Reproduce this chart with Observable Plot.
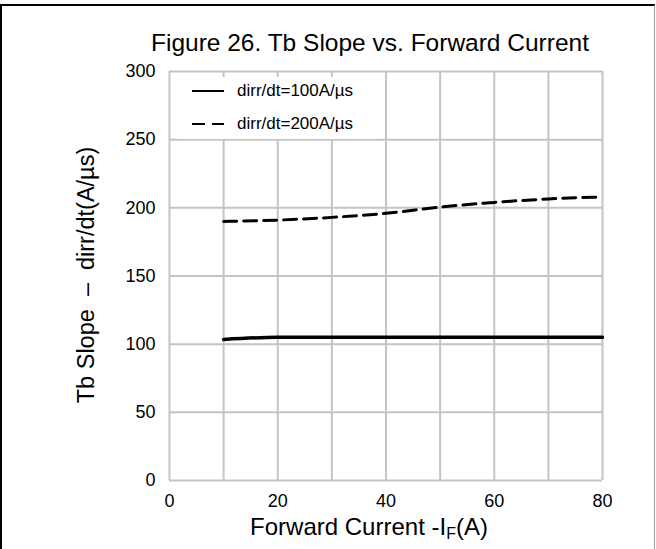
<!DOCTYPE html>
<html>
<head>
<meta charset="utf-8">
<script src="https://cdn.jsdelivr.net/npm/d3@7"></script>
<script src="https://cdn.jsdelivr.net/npm/@observablehq/plot@0.6"></script>
<style>
  html, body { margin: 0; padding: 0; background: #fff; }
  #wrap { position: relative; width: 656px; height: 549px; overflow: hidden; font-family: "Liberation Sans", Arial, sans-serif; color: #000; }
  #frame { position: absolute; left: 0; top: 4px; width: 655px; height: 560px; border-top: 2px solid #000; border-left: 2px solid #000; border-right: 1px solid #a0a0a0; box-sizing: border-box; pointer-events: none; }
  .title { position: absolute; left: 0; width: 740px; top: 28px; text-align: center; font-size: 24.5px; white-space: nowrap; line-height: 30px; }
  .xlabel { position: absolute; left: 0; width: 738px; top: 512px; text-align: center; font-size: 24px; white-space: nowrap; line-height: 30px; }
  .xlabel sub { font-size: 16px; vertical-align: -4px; line-height: 0; }
  .ylabel { position: absolute; left: 86px; top: 275px; transform: translate(-50%, -50%) rotate(-90deg); font-size: 23.5px; white-space: pre; }
  #legend { position: absolute; left: 178px; top: 77px; width: 197px; height: 62px; background: #fff; }
  .lg { position: absolute; left: 14px; font-size: 17px; white-space: nowrap; display: flex; align-items: center; }
  .lg svg { margin-right: 13px; }
  svg.plot { position: absolute; left: 0; top: 0; }
</style>
</head>
<body>
<div id="wrap"></div>
<script>
// ---- data ----
const forwardCurrent = [10, 20, 30, 40, 50, 60, 70, 80];
const slope100 = [103.5, 105, 105, 105, 105, 105, 105, 105];
const slope200 = [190, 191, 193, 196, 200.5, 204, 206.5, 208];
const seriesNames = ["dirr/dt=100A/µs", "dirr/dt=200A/µs"];
const xTickLabels = [0, 20, 40, 60, 80];
const xGridTicks = [0, 10, 20, 30, 40, 50, 60, 70, 80];
const yTicks = [0, 50, 100, 150, 200, 250, 300];
const titleText = "Figure 26. Tb Slope vs. Forward Current";
const yLabelText = "Tb Slope  \u2013  dirr/dt(A/\u00b5s)";

const rows100 = forwardCurrent.map((x, i) => ({x, y: slope100[i]}));
const rows200 = forwardCurrent.map((x, i) => ({x, y: slope200[i]}));

const gridColor = "#c4c4c4";

const chart = Plot.plot({
  width: 656,
  height: 549,
  marginLeft: 169,
  marginRight: 54,
  marginTop: 71,
  marginBottom: 69,
  style: { fontFamily: "'Liberation Sans', Arial, sans-serif", fontSize: "18px", color: "#000", background: "transparent", overflow: "visible" },
  x: { domain: [0, 80] },
  y: { domain: [0, 300] },
  marks: [
    Plot.gridX(xGridTicks, { stroke: gridColor, strokeOpacity: 1, strokeWidth: 2 }),
    Plot.gridY(yTicks, { stroke: gridColor, strokeOpacity: 1, strokeWidth: 2 }),
    Plot.line(rows100, { x: "x", y: "y", stroke: "#000", strokeWidth: 3.5, curve: "monotone-x" }),
    Plot.line(rows200, { x: "x", y: "y", stroke: "#000", strokeWidth: 3, strokeDasharray: "13,7", curve: "monotone-x" }),
    Plot.axisX(xTickLabels, { tickSize: 0, tickPadding: 14, label: null, fill: "#000" }),
    Plot.axisY(yTicks, { tickSize: 0, tickPadding: 14, label: null, fill: "#000" })
  ]
});

const wrap = document.getElementById("wrap");
wrap.appendChild(chart);

// legend
const legend = document.createElement("div");
legend.id = "legend";
const dashes = [null, "13,7"];
seriesNames.forEach((name, i) => {
  const row = document.createElement("div");
  row.className = "lg";
  row.style.top = (i === 0 ? 4 : 37) + "px";
  row.innerHTML = `<svg width="32" height="20"><line x1="0" x2="32" y1="10" y2="10" stroke="#000" stroke-width="2" ${dashes[i] ? `stroke-dasharray="${dashes[i]}"` : ""}/></svg><span>${name}</span>`;
  legend.appendChild(row);
});
wrap.appendChild(legend);

const t = document.createElement("div");
t.className = "title";
t.textContent = titleText;
wrap.appendChild(t);

const xl = document.createElement("div");
xl.className = "xlabel";
xl.innerHTML = "Forward Current -I<sub>F</sub>(A)";
wrap.appendChild(xl);

const yl = document.createElement("div");
yl.className = "ylabel";
yl.textContent = yLabelText;
wrap.appendChild(yl);

const frame = document.createElement("div");
frame.id = "frame";
wrap.appendChild(frame);
</script>
</body>
</html>
